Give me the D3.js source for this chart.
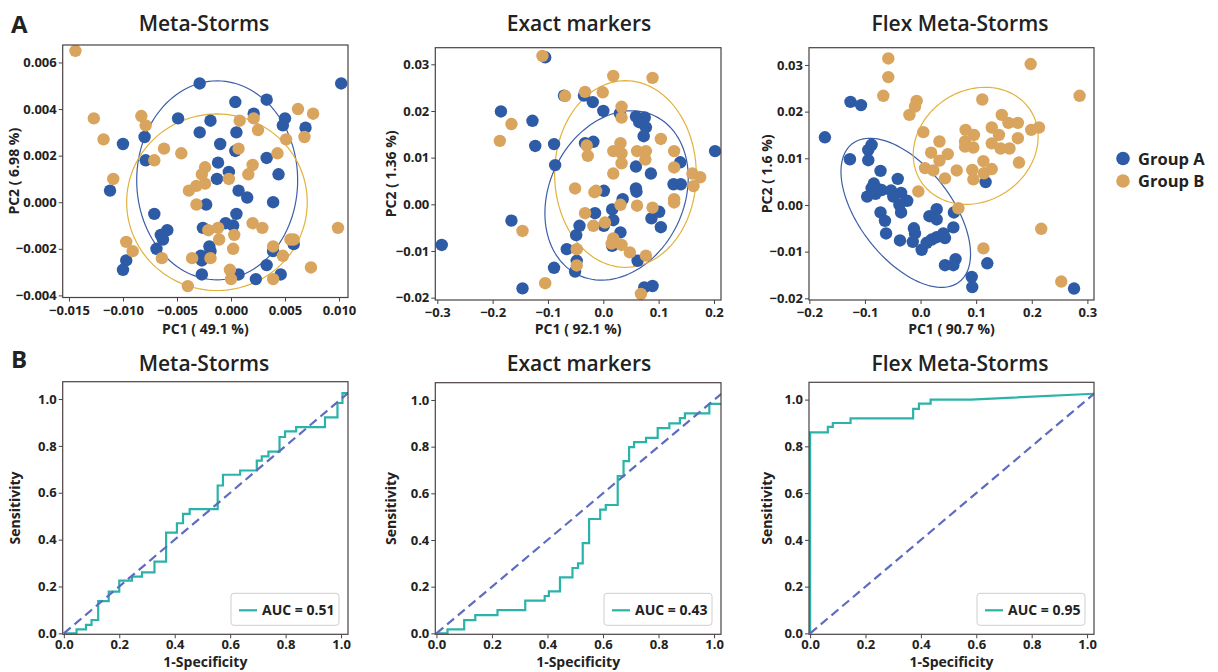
<!DOCTYPE html>
<html>
<head>
<meta charset="utf-8">
<script src="https://cdn.jsdelivr.net/npm/d3@7"></script>
<style>
  body { margin: 0; background: #fff; }
  svg text { font-family: 'Open Sans', 'DejaVu Sans', sans-serif; fill: #222; }
</style>
</head>
<body>
<svg id="chart" width="1218" height="672"></svg>
<script>
// ---------- data ----------
const methods = ['Meta-Storms', 'Exact markers', 'Flex Meta-Storms'];
const groups = ['Group A', 'Group B'];
const pc1Labels = ['PC1 ( 49.1 %)', 'PC1 ( 92.1 %)', 'PC1 ( 90.7 %)'];
const pc2Labels = ['PC2 ( 6.98 %)', 'PC2 ( 1.36 %)', 'PC2 ( 1.6 %)'];

// PCA scores [PC1, PC2]
const msGroupA = [[-0.0029,0.0051],[0.0102,0.0051],[0.0004,0.0043],[0.0033,0.0044],[-0.0049,0.0036],[-0.0019,0.0035],
  [0.0021,0.0038],[0.0050,0.0036],[0.0048,0.0033],[0.0069,0.0032],[-0.0029,0.0030],[0.0005,0.0030],[-0.0080,0.0028],
  [-0.0100,0.0025],[-0.0010,0.0025],[0.0004,0.0022],[-0.0079,0.0018],[-0.0012,0.0017],[0.0033,0.0019],[-0.0002,0.0013],
  [-0.0013,0.0010],[0.0044,0.0012],[-0.0112,0.0005],[0.0007,0.0005],[0.0015,0.0002],[0.0039,0.0000],[-0.0023,-0.0001],
  [-0.0071,-0.0005],[0.0005,-0.0005],[-0.0005,-0.0009],[0.0002,-0.0010],[-0.0026,-0.0011],[-0.0059,-0.0012],[-0.0065,-0.0014],
  [-0.0063,-0.0016],[-0.0069,-0.0020],[-0.0020,-0.0019],[-0.0019,-0.0021],[-0.0028,-0.0023],[-0.0027,-0.0025],[0.0039,-0.0021],
  [0.0058,-0.0018],[-0.0097,-0.0025],[-0.0100,-0.0029],[0.0033,-0.0027],[-0.0027,-0.0031],[0.0007,-0.0031],[0.0023,-0.0033],
  [0.0046,-0.0031]];
const msGroupB = [[-0.0144,0.0065],[-0.0127,0.0036],[-0.0083,0.0037],[-0.0079,0.0033],[-0.0118,0.0027],[-0.0062,0.0023],
  [-0.0046,0.0021],[-0.0071,0.0018],[-0.0109,0.0010],[-0.0024,0.0015],[-0.0027,0.0012],[-0.0024,0.0008],[-0.0032,0.0007],
  [-0.0039,0.0005],[-0.0032,-0.0001],[-0.0002,0.0010],[0.0008,0.0035],[0.0021,0.0036],[0.0025,0.0031],[0.0007,0.0023],
  [0.0020,0.0016],[0.0016,0.0012],[0.0043,0.0021],[0.0051,0.0027],[0.0062,0.0040],[0.0076,0.0038],[0.0068,0.0028],
  [0.0020,-0.0009],[0.0029,-0.0011],[-0.0012,-0.0011],[-0.0021,-0.0012],[-0.0011,-0.0016],[0.0003,-0.0014],[0.0002,-0.0020],
  [-0.0019,-0.0024],[-0.0036,-0.0024],[-0.0064,-0.0024],[-0.0097,-0.0017],[-0.0091,-0.0021],[-0.0001,-0.0029],[0.0000,-0.0033],
  [-0.0040,-0.0036],[0.0039,-0.0033],[0.0039,-0.0019],[0.0048,-0.0023],[0.0055,-0.0016],[0.0058,-0.0016],[0.0074,-0.0028],
  [0.0099,-0.0011]];

const emGroupA = [[-0.105,0.0315],[-0.071,0.0233],[-0.035,0.0233],[-0.019,0.0219],[0.000,0.0200],[-0.185,0.0199],
  [-0.128,0.0179],[-0.123,0.0125],[-0.089,0.0129],[-0.087,0.0084],[-0.033,0.0131],[-0.018,0.0134],[0.030,0.0195],
  [0.059,0.0188],[0.075,0.0186],[0.065,0.0176],[0.077,0.0165],[0.073,0.0146],[0.059,0.0081],[0.086,0.0066],[0.139,0.0090],
  [0.127,0.0043],[0.140,0.0043],[0.202,0.0114],[0.001,0.0029],[0.059,0.0034],[0.060,0.0027],[0.035,0.0011],[0.016,-0.0011],
  [-0.015,-0.0019],[0.001,-0.0046],[0.018,-0.0034],[0.031,-0.0060],[0.087,-0.0030],[0.101,-0.0016],[0.104,-0.0049],
  [-0.043,-0.0046],[-0.049,-0.0066],[-0.166,-0.0035],[-0.292,-0.0087],[-0.066,-0.0096],[-0.048,-0.0121],[-0.051,-0.0144],
  [-0.089,-0.0136],[0.016,-0.0089],[0.062,-0.0121],[-0.146,-0.0180],[0.074,-0.0178],[0.089,-0.0175]];
const emGroupB = [[-0.110,0.0318],[0.018,0.0275],[0.089,0.0271],[-0.033,0.0241],[-0.001,0.0240],[-0.069,0.0232],
  [0.033,0.0209],[0.033,0.0186],[-0.166,0.0172],[-0.187,0.0136],[-0.030,0.0126],[-0.028,0.0104],[0.018,0.0114],
  [0.031,0.0131],[0.033,0.0109],[0.033,0.0088],[0.061,0.0114],[0.077,0.0114],[0.076,0.0096],[0.104,0.0140],[0.128,0.0114],
  [0.128,0.0079],[0.018,0.0066],[-0.051,0.0034],[-0.016,0.0026],[-0.013,0.0029],[0.031,-0.0001],[0.061,-0.0003],
  [0.089,-0.0007],[0.128,0.0011],[0.128,0.0004],[0.161,0.0066],[0.175,0.0058],[0.163,0.0039],[-0.033,-0.0019],
  [-0.018,-0.0046],[0.003,-0.0039],[0.018,-0.0073],[0.015,-0.0084],[0.033,-0.0087],[0.048,-0.0103],[0.077,-0.0110],
  [-0.146,-0.0057],[-0.048,-0.0096],[-0.048,-0.0131],[-0.105,-0.0169],[0.068,-0.0192]];

const fmGroupA = [[-0.172,0.0145],[-0.126,0.0221],[-0.107,0.0214],[-0.127,0.0098],[-0.088,0.0129],[-0.094,0.0118],
  [-0.094,0.0096],[-0.072,0.0073],[-0.041,0.0056],[-0.084,0.0046],[-0.088,0.0036],[-0.076,0.0034],[-0.070,0.0032],
  [-0.096,0.0018],[-0.081,0.0024],[-0.053,0.0031],[-0.035,0.0026],[-0.049,0.0018],[-0.024,0.0009],[-0.038,0.0000],
  [-0.035,-0.0016],[-0.072,-0.0016],[-0.064,-0.0034],[-0.062,-0.0061],[-0.037,-0.0076],[-0.012,-0.0050],[-0.010,-0.0061],
  [-0.014,-0.0079],[0.002,-0.0096],[0.011,-0.0081],[0.020,-0.0074],[0.029,-0.0069],[0.041,-0.0061],[0.044,-0.0071],
  [0.059,-0.0048],[0.060,-0.0016],[0.016,-0.0024],[0.029,-0.0009],[0.029,-0.0031],[0.044,-0.0129],[0.059,-0.0129],
  [0.063,-0.0116],[0.092,-0.0154],[0.093,-0.0176],[0.120,-0.0125],[0.117,0.0049],[0.276,-0.0179]];
const fmGroupB = [[-0.058,0.0314],[-0.058,0.0274],[-0.067,0.0234],[-0.007,0.0223],[-0.010,0.0211],[-0.020,0.0193],
  [0.198,0.0302],[0.286,0.0234],[0.111,0.0226],[0.005,0.0156],[0.034,0.0136],[0.019,0.0112],[0.034,0.0095],[0.049,0.0109],
  [0.008,0.0079],[0.023,0.0074],[0.044,0.0057],[0.065,0.0074],[-0.004,0.0029],[0.068,-0.0007],[0.081,0.0161],[0.096,0.0150],
  [0.080,0.0136],[0.095,0.0123],[0.080,0.0125],[0.128,0.0166],[0.141,0.0150],[0.128,0.0132],[0.146,0.0193],[0.158,0.0176],
  [0.175,0.0176],[0.144,0.0121],[0.160,0.0121],[0.175,0.0143],[0.177,0.0091],[0.199,0.0161],[0.213,0.0166],[0.113,0.0094],
  [0.093,0.0075],[0.095,0.0055],[0.114,0.0068],[0.128,0.0077],[0.217,-0.0051],[0.113,-0.0093],[0.253,-0.0164]];

// confidence ellipses: [centre PC1, centre PC2, axis1 dPC1, axis1 dPC2, axis2 dPC1, axis2 dPC2]
const msEllipseA = [-0.00128, 0.00094, 0.00745, 0, 0, 0.00427];
const msEllipseB = [-0.0013, 0.0000, 0.00836, 0, 0, 0.00379];
const emEllipseA = [0.024, 0.0019, 0.0692, 0.01703, 0.1095, -0.00626];
const emEllipseB = [0.040, 0.0065, 0.128, 0, 0, 0.0200];
const fmEllipseA = [-0.0266, -0.00168, 0.0964, -0.01478, -0.0654, -0.00606];
const fmEllipseB = [0.0991, 0.01268, 0.0981, 0.00769, 0.0546, -0.0099];

const msXTicks = [-0.015, -0.010, -0.005, 0, 0.005, 0.010];
const msYTicks = [-0.004, -0.002, 0, 0.002, 0.004, 0.006];
const emXTicks = [-0.3, -0.2, -0.1, 0, 0.1, 0.2];
const emYTicks = [-0.02, -0.01, 0, 0.01, 0.02, 0.03];
const fmXTicks = [-0.2, -0.1, 0, 0.1, 0.2, 0.3];
const fmYTicks = [-0.02, -0.01, 0, 0.01, 0.02, 0.03];

const msXDomain = [-0.01558, 0.01083], msYDomain = [-0.00409, 0.00675];
const emXDomain = [-0.3036, 0.2127],   emYDomain = [-0.0205, 0.03356];
const fmXDomain = [-0.2006, 0.3119],   fmYDomain = [-0.02036, 0.0337];

// ROC curves [1-specificity, sensitivity]
const rocMetaStorms = [[0,0],[0.046,0],[0.046,0.017],[0.08,0.017],[0.08,0.036],[0.10,0.036],[0.10,0.057],[0.124,0.057],
  [0.124,0.138],[0.162,0.138],[0.162,0.178],[0.20,0.178],[0.20,0.225],[0.246,0.225],[0.246,0.242],[0.282,0.242],
  [0.282,0.26],[0.327,0.26],[0.327,0.306],[0.369,0.306],[0.369,0.43],[0.408,0.43],[0.408,0.47],[0.43,0.47],[0.43,0.51],
  [0.454,0.51],[0.454,0.53],[0.555,0.53],[0.555,0.631],[0.574,0.631],[0.574,0.677],[0.636,0.677],[0.636,0.695],
  [0.696,0.695],[0.696,0.737],[0.714,0.737],[0.714,0.755],[0.738,0.755],[0.738,0.776],[0.778,0.776],[0.778,0.838],
  [0.798,0.838],[0.798,0.862],[0.838,0.862],[0.838,0.88],[0.942,0.88],[0.942,0.922],[0.987,0.922],[0.987,0.983],
  [1.005,0.983],[1.005,1.025],[1.025,1.025]];
const rocExactMarkers = [[0,0],[0.04,0],[0.04,0.017],[0.10,0.017],[0.10,0.057],[0.14,0.057],[0.14,0.078],[0.22,0.078],
  [0.22,0.10],[0.32,0.10],[0.32,0.14],[0.39,0.14],[0.39,0.16],[0.405,0.16],[0.405,0.18],[0.445,0.18],[0.445,0.24],
  [0.49,0.24],[0.49,0.28],[0.51,0.28],[0.51,0.30],[0.527,0.30],[0.527,0.387],[0.55,0.387],[0.55,0.49],[0.59,0.49],
  [0.59,0.53],[0.61,0.53],[0.61,0.55],[0.653,0.55],[0.653,0.674],[0.674,0.674],[0.674,0.738],[0.694,0.738],[0.694,0.798],
  [0.712,0.798],[0.712,0.819],[0.755,0.819],[0.755,0.838],[0.797,0.838],[0.797,0.879],[0.839,0.879],[0.839,0.90],
  [0.877,0.90],[0.877,0.922],[0.895,0.922],[0.895,0.943],[0.983,0.943],[0.983,0.983],[1.025,0.983]];
const rocFlexMetaStorms = [[0,0],[0,0.86],[0.064,0.86],[0.064,0.883],[0.082,0.883],[0.082,0.90],[0.146,0.90],
  [0.146,0.92],[0.372,0.92],[0.372,0.96],[0.393,0.96],[0.393,0.983],[0.435,0.983],[0.435,1.0],[0.58,1.0],[1.025,1.025]];
const chanceLine = [[0, 0], [1.1, 1.1]];
const aucValues = [0.51, 0.43, 0.95];
const rocTicks = [0, 0.2, 0.4, 0.6, 0.8, 1.0];
const rocXDomain = [-0.004, 1.025], rocYDomain = [-0.004, 1.074];

// ---------- drawing ----------
const svg = d3.select('#chart');
const blue = '#2d5ba5', orange = '#d9a45e';
const frameColor = '#4a4242';

const pcaPanels = [
  {A: msGroupA, B: msGroupB, eA: msEllipseA, eB: msEllipseB, xt: msXTicks, yt: msYTicks, xd: msXDomain, yd: msYDomain,
   fx: d3.format('.3f'), fy: d3.format('.3f'), box: [62.7, 45, 348, 297.5], titleX: 204, ylabX: 19},
  {A: emGroupA, B: emGroupB, eA: emEllipseA, eB: emEllipseB, xt: emXTicks, yt: emYTicks, xd: emXDomain, yd: emYDomain,
   fx: d3.format('.1f'), fy: d3.format('.2f'), box: [435.3, 47.7, 721, 300], titleX: 579, ylabX: 396},
  {A: fmGroupA, B: fmGroupB, eA: fmEllipseA, eB: fmEllipseB, xt: fmXTicks, yt: fmYTicks, xd: fmXDomain, yd: fmYDomain,
   fx: d3.format('.1f'), fy: d3.format('.2f'), box: [809, 47.7, 1094, 300], titleX: 960, ylabX: 772}
];

function styleAxis(g) {
  g.select('.domain').remove();
  g.selectAll('.tick line').attr('stroke', frameColor).attr('stroke-width', 1);
  g.selectAll('.tick text').attr('fill', '#222').style('font-size', '13px').style('font-weight', 700);
}

function ellipsePoints(e) {
  return d3.range(0, 361, 3).map(deg => {
    const t = deg * Math.PI / 180;
    return [e[0] + e[2] * Math.cos(t) + e[4] * Math.sin(t), e[1] + e[3] * Math.cos(t) + e[5] * Math.sin(t)];
  });
}

pcaPanels.forEach((p, i) => {
  const [l, t, r, b] = p.box;
  const x = d3.scaleLinear().domain(p.xd).range([l, r]);
  const y = d3.scaleLinear().domain(p.yd).range([b, t]);
  const g = svg.append('g');

  g.append('clipPath').attr('id', 'clipA' + i)
    .append('rect').attr('x', l).attr('y', t).attr('width', r - l).attr('height', b - t);
  const plot = g.append('g').attr('clip-path', `url(#clipA${i})`);

  const line = d3.line().x(d => x(d[0])).y(d => y(d[1]));
  plot.append('path').attr('d', line(ellipsePoints(p.eA)) + 'Z')
    .attr('fill', 'none').attr('stroke', '#3b5ea9').attr('stroke-width', 1.2);
  plot.append('path').attr('d', line(ellipsePoints(p.eB)) + 'Z')
    .attr('fill', 'none').attr('stroke', '#e2b23a').attr('stroke-width', 1.2);

  plot.selectAll('circle.a').data(p.A).enter().append('circle')
    .attr('cx', d => x(d[0])).attr('cy', d => y(d[1])).attr('r', 6.2).attr('fill', blue);
  plot.selectAll('circle.b').data(p.B).enter().append('circle')
    .attr('cx', d => x(d[0])).attr('cy', d => y(d[1])).attr('r', 6.2).attr('fill', orange);

  g.append('rect').attr('x', l).attr('y', t).attr('width', r - l).attr('height', b - t)
    .attr('fill', 'none').attr('stroke', frameColor).attr('stroke-width', 1.2);

  g.append('g').attr('transform', `translate(0,${b})`)
    .call(d3.axisBottom(x).tickValues(p.xt).tickFormat(p.fx).tickSize(4).tickPadding(4))
    .call(styleAxis);
  g.append('g').attr('transform', `translate(${l},0)`)
    .call(d3.axisLeft(y).tickValues(p.yt).tickFormat(p.fy).tickSize(4).tickPadding(2))
    .call(styleAxis);

  g.append('text').attr('x', p.titleX).attr('y', 31).attr('text-anchor', 'middle')
    .style('font-size', '21px').style('font-weight', 600).attr('fill', '#2a2a2a').text(methods[i]);
  g.append('text').attr('x', (l + r) / 2).attr('y', 334).attr('text-anchor', 'middle')
    .style('font-size', '14px').style('font-weight', 700).text(pc1Labels[i]);
  g.append('text').attr('transform', `translate(${p.ylabX},${(t + b) / 2}) rotate(-90)`).attr('text-anchor', 'middle')
    .style('font-size', '14px').style('font-weight', 700).text(pc2Labels[i]);
});

// ROC panels
const rocData = [rocMetaStorms, rocExactMarkers, rocFlexMetaStorms];
const rocPanels = [
  {box: [62.7, 381.7, 348, 634.3], titleX: 204, ylabX: 20},
  {box: [435.3, 382.7, 721, 634.3], titleX: 579, ylabX: 396},
  {box: [809, 382.3, 1094, 634.3], titleX: 960, ylabX: 772}
];

rocPanels.forEach((p, i) => {
  const [l, t, r, b] = p.box;
  const x = d3.scaleLinear().domain(rocXDomain).range([l, r]);
  const y = d3.scaleLinear().domain(rocYDomain).range([b, t]);
  const g = svg.append('g');

  g.append('clipPath').attr('id', 'clipB' + i)
    .append('rect').attr('x', l).attr('y', t).attr('width', r - l).attr('height', b - t);
  const plot = g.append('g').attr('clip-path', `url(#clipB${i})`);
  const line = d3.line().x(d => x(d[0])).y(d => y(d[1]));

  plot.append('path').attr('d', line(rocData[i]))
    .attr('fill', 'none').attr('stroke', '#2bb3a9').attr('stroke-width', 2.2);
  plot.append('path').attr('d', line(chanceLine))
    .attr('fill', 'none').attr('stroke', '#5d6cc0').attr('stroke-width', 2.2).attr('stroke-dasharray', '9,5');

  g.append('rect').attr('x', l).attr('y', t).attr('width', r - l).attr('height', b - t)
    .attr('fill', 'none').attr('stroke', frameColor).attr('stroke-width', 1.2);

  g.append('g').attr('transform', `translate(0,${b})`)
    .call(d3.axisBottom(x).tickValues(rocTicks).tickFormat(d3.format('.1f')).tickSize(4).tickPadding(1))
    .call(styleAxis);
  g.append('g').attr('transform', `translate(${l},0)`)
    .call(d3.axisLeft(y).tickValues(rocTicks).tickFormat(d3.format('.1f')).tickSize(4).tickPadding(2))
    .call(styleAxis);

  // legend box
  const lg = g.append('g').attr('transform', `translate(${r - 117},${b - 41})`);
  lg.append('rect').attr('width', 108).attr('height', 32).attr('rx', 3)
    .attr('fill', '#fff').attr('stroke', '#cfcfcf').attr('stroke-width', 1);
  lg.append('line').attr('x1', 8).attr('x2', 26).attr('y1', 17).attr('y2', 17)
    .attr('stroke', '#2bb3a9').attr('stroke-width', 2.2);
  lg.append('text').attr('x', 31).attr('y', 22)
    .style('font-size', '14px').style('font-weight', 700).text(`AUC = ${aucValues[i].toFixed(2)}`);

  g.append('text').attr('x', p.titleX).attr('y', 371).attr('text-anchor', 'middle')
    .style('font-size', '21px').style('font-weight', 600).attr('fill', '#2a2a2a').text(methods[i]);
  g.append('text').attr('x', (l + r) / 2).attr('y', 667).attr('text-anchor', 'middle')
    .style('font-size', '14px').style('font-weight', 700).text('1-Specificity');
  g.append('text').attr('transform', `translate(${p.ylabX},${(t + b) / 2}) rotate(-90)`).attr('text-anchor', 'middle')
    .style('font-size', '14px').style('font-weight', 700).text('Sensitivity');
});

// panel letters
svg.append('text').attr('x', 11).attr('y', 33).style('font-size', '24px').style('font-weight', 700).attr('fill', '#000').text('A');
svg.append('text').attr('x', 11).attr('y', 368).style('font-size', '24px').style('font-weight', 700).attr('fill', '#000').text('B');

// group legend
const legend = svg.append('g');
legend.selectAll('circle').data(groups).enter().append('circle')
  .attr('cx', 1123).attr('cy', (d, i) => 158.5 + i * 22.5).attr('r', 6.8)
  .attr('fill', (d, i) => i === 0 ? blue : orange);
legend.selectAll('text').data(groups).enter().append('text')
  .attr('x', 1138).attr('y', (d, i) => 164.5 + i * 22.5)
  .style('font-size', '16.5px').style('font-weight', 700).attr('fill', '#111').text(d => d);
</script>
</body>
</html>
